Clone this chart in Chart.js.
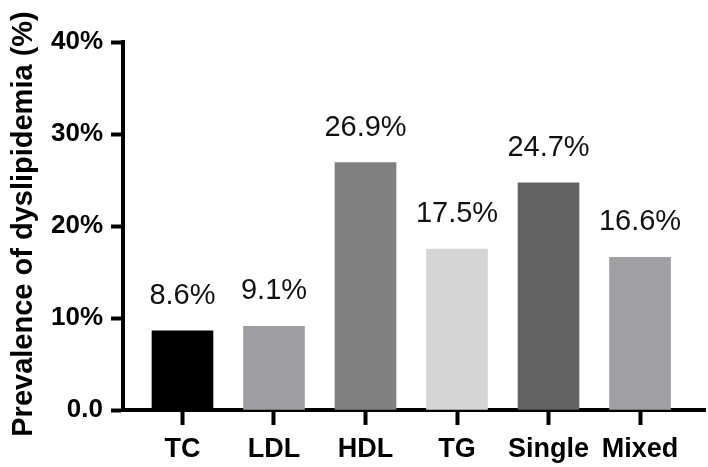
<!DOCTYPE html>
<html>
<head>
<meta charset="utf-8">
<script src="https://cdn.jsdelivr.net/npm/chart.js@4"></script>
<style>
  html, body { margin: 0; padding: 0; background: #fff; }
  canvas { display: block; }
</style>
</head>
<body>
<canvas id="prevalenceChart" width="708" height="467"></canvas>
<script>
// Données du graphique
const categories = ['TC', 'LDL', 'HDL', 'TG', 'Single', 'Mixed'];
const prevalence = [8.6, 9.1, 26.9, 17.5, 24.7, 16.6];
const valueLabels = ['8.6%', '9.1%', '26.9%', '17.5%', '24.7%', '16.6%'];
const yTickLabels = ['0.0', '10%', '20%', '30%', '40%'];
const yTitle = 'Prevalence of dyslipidemia (%)';

// Couleurs des barres
const barColors = ['#000000', '#9f9fa3', '#808080', '#d5d5d5', '#626262', '#a0a0a4'];

const fontFamily = '"Liberation Sans", Arial, Helvetica, sans-serif';

// Étiquettes de valeur au-dessus des barres
const valueLabelPlugin = {
    id: 'valueLabels',
    afterDatasetsDraw(chart) {
        const ctx = chart.ctx;
        const meta = chart.getDatasetMeta(0);
        ctx.save();
        ctx.font = '29px ' + fontFamily;
        ctx.fillStyle = '#111';
        ctx.textAlign = 'center';
        ctx.textBaseline = 'alphabetic';
        meta.data.forEach((bar, i) => {
            ctx.fillText(valueLabels[i], bar.x, bar.y - 27);
        });
        ctx.restore();
    }
};

// Titre vertical de l'axe Y
const yTitlePlugin = {
    id: 'yTitle',
    afterDraw(chart) {
        const ctx = chart.ctx;
        ctx.save();
        ctx.translate(32, 224);
        ctx.rotate(-Math.PI / 2);
        ctx.font = 'bold 29px ' + fontFamily;
        ctx.fillStyle = '#000';
        ctx.textAlign = 'center';
        ctx.textBaseline = 'alphabetic';
        ctx.fillText(yTitle, 0, 0);
        ctx.restore();
    }
};

new Chart(document.getElementById('prevalenceChart'), {
    type: 'bar',
    data: {
        datasets: [{
            data: categories.map((c, i) => ({ x: i, y: prevalence[i] })),
            backgroundColor: barColors,
            borderWidth: 0,
            barThickness: 61
        }]
    },
    options: {
        responsive: false,
        animation: false,
        layout: { padding: { top: 42, right: 3, left: 0, bottom: 0 } },
        plugins: {
            legend: { display: false },
            tooltip: { enabled: false }
        },
        scales: {
            x: {
                type: 'linear',
                min: -0.65,
                max: 5.71,
                offset: false,
                z: 1,
                afterBuildTicks: scale => {
                    scale.ticks = categories.map((c, i) => ({ value: i }));
                },
                afterFit: scale => { scale.height = 57; },
                border: { display: true, color: '#000', width: 4 },
                grid: {
                    offset: false,
                    drawOnChartArea: false,
                    drawTicks: true,
                    tickLength: 15,
                    tickWidth: 4,
                    tickColor: '#000',
                    color: '#000'
                },
                ticks: {
                    autoSkip: false,
                    maxRotation: 0,
                    padding: 8,
                    color: '#000',
                    font: { family: fontFamily, size: 27, weight: 'bold' },
                    callback: value => categories[value]
                }
            },
            y: {
                min: 0,
                max: 40,
                z: 1,
                afterFit: scale => { scale.width = 123; },
                border: { display: true, color: '#000', width: 4 },
                grid: {
                    drawOnChartArea: false,
                    drawTicks: true,
                    tickLength: 12,
                    tickWidth: 4,
                    tickColor: '#000',
                    color: '#000'
                },
                ticks: {
                    stepSize: 10,
                    padding: 8,
                    color: '#000',
                    font: { family: fontFamily, size: 26, weight: 'bold' },
                    callback: (value, index) => yTickLabels[index]
                }
            }
        }
    },
    plugins: [valueLabelPlugin, yTitlePlugin]
});
</script>
</body>
</html>
